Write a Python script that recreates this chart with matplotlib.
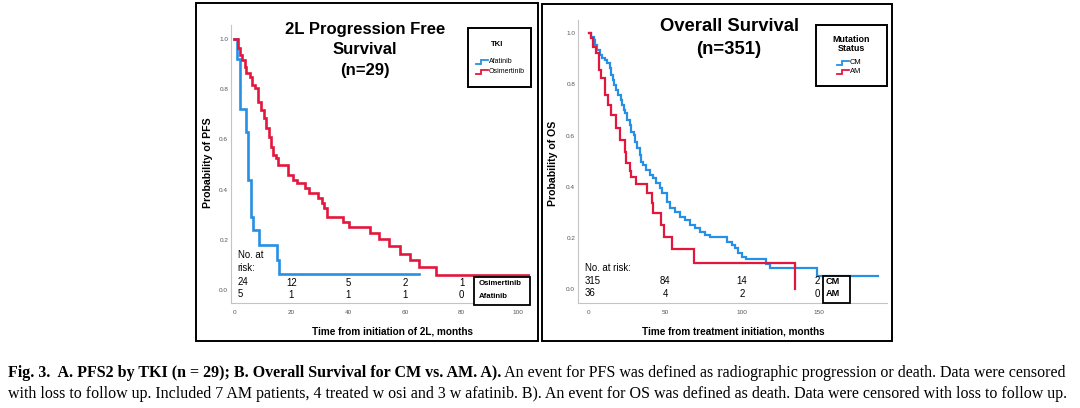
import matplotlib
matplotlib.use("Agg")
import matplotlib.pyplot as plt
from matplotlib.patches import Rectangle
from matplotlib.transforms import blended_transform_factory

# ---------------- data ----------------
# Panel A: 2L PFS by TKI (step times in months, survival after each step)
afa_t = [0, 0.8, 1.8, 4.0, 4.9, 5.9, 6.7, 8.8, 14.9, 15.8, 64.9]
afa_s = [1.0, 0.92, 0.72, 0.63, 0.44, 0.29, 0.24, 0.18, 0.12, 0.064, 0.064]
osi_t = [0, 1.3, 1.9, 2.7, 3.6, 4.2, 5.4, 6.2, 7.4, 8.3, 9.5, 10.5, 11.3, 12.1,
         12.8, 13.6, 14.8, 15.5, 18.9, 20.7, 22.0, 24.9, 26.1, 29.6, 30.8, 31.6,
         32.5, 38.2, 40.2, 47.8, 51.0, 54.4, 58.2, 62.0, 64.9, 71.1, 104.0]
osi_s = [1.0, 0.963, 0.936, 0.917, 0.89, 0.863, 0.85, 0.817, 0.803, 0.75, 0.717,
         0.684, 0.644, 0.61, 0.57, 0.538, 0.524, 0.5, 0.458, 0.438, 0.425, 0.405,
         0.385, 0.365, 0.345, 0.325, 0.292, 0.272, 0.252, 0.228, 0.205, 0.175,
         0.143, 0.12, 0.093, 0.06, 0.06]
a_xticks = [0, 20, 40, 60, 80, 100]
a_yticks = [0.0, 0.2, 0.4, 0.6, 0.8, 1.0]
a_risk_x = [20, 40, 60, 80]
a_risk_osi = ["12", "5", "2", "1"]
a_risk_afa = ["1", "1", "1", "0"]
a_risk_first = ["24", "5"]

# Panel B: OS by mutation status
cm_t = [0, 1.7, 3.5, 4.3, 5.6, 7.1, 8.7, 10.5, 12.2, 13.7, 14.4, 15.9, 16.6, 18.1,
        19.2, 20.9, 21.8, 23.1, 24.0, 25.3, 26.8, 27.9, 29.6, 30.5, 31.8, 33.3,
        34.4, 35.5, 37.7, 39.9, 42.0, 44.2, 46.4, 47.9, 50.8, 53.0, 56.2, 59.5,
        62.8, 66.1, 69.3, 72.6, 75.9, 79.1, 90.5, 93.3, 95.5, 97.6, 99.9, 102.7,
        115.8, 118.4, 149.3, 188.6]
cm_s = [1.0, 0.987, 0.974, 0.954, 0.935, 0.915, 0.902, 0.896, 0.883, 0.863, 0.837,
        0.818, 0.798, 0.779, 0.759, 0.74, 0.72, 0.70, 0.688, 0.661, 0.642, 0.616,
        0.603, 0.577, 0.551, 0.525, 0.498, 0.486, 0.466, 0.446, 0.434, 0.414,
        0.395, 0.375, 0.342, 0.316, 0.303, 0.284, 0.271, 0.251, 0.238, 0.225,
        0.212, 0.205, 0.186, 0.173, 0.16, 0.143, 0.127, 0.117, 0.10, 0.082,
        0.053, 0.053]
am_t = [0, 1.7, 2.8, 5.0, 6.8, 8.3, 10.5, 12.6, 14.8, 18.1, 20.3, 23.5, 24.6, 26.8,
        27.9, 31.0, 38.1, 41.0, 42.1, 47.5, 49.1, 54.1, 68.7, 134.7]
am_s = [1.0, 0.98, 0.948, 0.922, 0.857, 0.824, 0.759, 0.72, 0.681, 0.629, 0.583,
        0.538, 0.492, 0.46, 0.44, 0.41, 0.375, 0.336, 0.297, 0.251, 0.205, 0.156,
        0.104, 0.0]
b_xticks = [0, 50, 100, 150]
b_yticks = [0.0, 0.2, 0.4, 0.6, 0.8, 1.0]
b_risk_x = [50, 100, 149]
b_risk_cm = ["84", "14", "2"]
b_risk_am = ["4", "2", "0"]
b_risk_first = ["315", "36"]

BLUE = "#2690e4"
RED = "#e3173d"
SANS = "Liberation Sans"
SERIF = "Liberation Serif"

W, H = 1080, 408
fig = plt.figure(figsize=(W / 100, H / 100), dpi=100)
fig.patch.set_facecolor("white")


def px_axes(l, r, t, b):
    return fig.add_axes([l / W, 1 - b / H, (r - l) / W, (b - t) / H])


def style_axes(ax, xt, yt):
    for s in ["top", "right"]:
        ax.spines[s].set_visible(False)
    for s in ["left", "bottom"]:
        ax.spines[s].set_color("#c4c4c4")
        ax.spines[s].set_linewidth(0.8)
    ax.set_xticks(xt)
    ax.set_xticklabels([str(v) for v in xt])
    ax.set_yticks(yt)
    ax.set_yticklabels([f"{v:.1f}" for v in yt])
    ax.tick_params(length=0, labelsize=4.6, labelcolor="#555555")
    ax.tick_params(axis="x", pad=5)
    ax.tick_params(axis="y", pad=2)
    for lab in ax.get_xticklabels() + ax.get_yticklabels():
        lab.set_family(SANS)


# ---------- Panel A axes ----------
axA = px_axes(231, 530, 25, 303)
axA.set_xlim(-1.2, 104.1)
axA.set_ylim(-0.052, 1.056)
style_axes(axA, a_xticks, a_yticks)
axA.step(afa_t, afa_s, where="post", color=BLUE, lw=1.9, solid_joinstyle="miter")
axA.step(osi_t, osi_s, where="post", color=RED, lw=1.9, solid_joinstyle="miter")

# ---------- Panel B axes ----------
axB = px_axes(578, 887, 20, 303)
axB.set_xlim(-7, 194.7)
axB.set_ylim(-0.054, 1.052)
style_axes(axB, b_xticks, b_yticks)
axB.step(cm_t, cm_s, where="post", color=BLUE, lw=1.6, solid_joinstyle="miter")
axB.step(am_t, am_s, where="post", color=RED, lw=1.6, solid_joinstyle="miter")

# ---------- overlay in pixel coordinates ----------
ov = fig.add_axes([0, 0, 1, 1], zorder=10)
ov.set_xlim(0, W)
ov.set_ylim(H, 0)
ov.axis("off")

# panel frames
for (l, t, r, b) in [(196, 3, 538, 341), (542, 4, 892, 341)]:
    ov.add_patch(Rectangle((l, t), r - l, b - t, fill=False, ec="black", lw=1.4))

# titles
ov.text(365, 50, "2L Progression Free\nSurvival\n(n=29)", ha="center", va="center",
        fontsize=12, fontweight="bold", family=SANS, linespacing=1.43)
ov.text(729, 38, "Overall Survival\n(n=351)", ha="center", va="center",
        fontsize=13.3, fontweight="bold", family=SANS, linespacing=1.45)

# axis labels
ov.text(208, 163, "Probability of PFS", rotation=90, ha="center", va="center",
        fontsize=7.6, fontweight="bold", family=SANS)
ov.text(392, 331, "Time from initiation of 2L, months", ha="center", va="center",
        fontsize=7.2, fontweight="bold", family=SANS)
ov.text(553, 163, "Probability of OS", rotation=90, ha="center", va="center",
        fontsize=7.6, fontweight="bold", family=SANS)
ov.text(733, 331, "Time from treatment initiation, months", ha="center", va="center",
        fontsize=7.2, fontweight="bold", family=SANS)


def step_icon(x, y, color):
    ov.plot([x, x + 5, x + 5, x + 12], [y + 2, y + 2, y - 2, y - 2], color=color,
            lw=1.3, solid_joinstyle="miter")


# legends
ov.add_patch(Rectangle((468, 28), 63, 59, fc="white", ec="black", lw=1.4))
ov.text(497, 45, "TKI", ha="center", va="center", fontsize=5.6, fontweight="bold",
        family=SANS)
step_icon(476, 61.7, BLUE)
ov.text(488.5, 61.7, "Afatinib", ha="left", va="center", fontsize=5, family=SANS)
step_icon(476, 71.7, RED)
ov.text(488.5, 71.7, "Osimertinib", ha="left", va="center", fontsize=5, family=SANS)

ov.add_patch(Rectangle((816, 25), 71, 61, fc="white", ec="black", lw=1.4))
ov.text(851, 44, "Mutation\nStatus", ha="center", va="center", fontsize=6.4,
        fontweight="bold", family=SANS, linespacing=1.0)
step_icon(837, 62.5, BLUE)
ov.text(849.5, 62.5, "CM", ha="left", va="center", fontsize=5.4, family=SANS)
step_icon(837, 71.5, RED)
ov.text(849.5, 71.5, "AM", ha="left", va="center", fontsize=5.4, family=SANS)

# number at risk - panel A
trA = blended_transform_factory(axA.transData, ov.transData)
ov.text(237.5, 255, "No. at", ha="left", va="center", fontsize=6.9, family=SANS)
ov.text(237.5, 268, "risk:", ha="left", va="center", fontsize=6.9, family=SANS)
ov.text(237.5, 282, a_risk_first[0], ha="left", va="center", fontsize=6.9, family=SANS)
ov.text(237.5, 294, a_risk_first[1], ha="left", va="center", fontsize=6.9, family=SANS)
for x, a, b in zip(a_risk_x, a_risk_osi, a_risk_afa):
    ov.text(x, 282.5, a, transform=trA, ha="center", va="center", fontsize=6.9,
            family=SANS)
    ov.text(x, 294.5, b, transform=trA, ha="center", va="center", fontsize=6.9,
            family=SANS)
ov.add_patch(Rectangle((474, 276.5), 56, 28, fc="white", ec="black", lw=1.3))
ov.text(478.5, 283.5, "Osimertinib", ha="left", va="center", fontsize=5.6,
        fontweight="bold", family=SANS)
ov.text(478.5, 296, "Afatinib", ha="left", va="center", fontsize=5.6,
        fontweight="bold", family=SANS)

# number at risk - panel B
trB = blended_transform_factory(axB.transData, ov.transData)
ov.text(585, 268.3, "No. at risk:", ha="left", va="center", fontsize=6.9, family=SANS)
ov.text(585, 280.5, b_risk_first[0], ha="left", va="center", fontsize=6.9, family=SANS)
ov.text(585, 292.5, b_risk_first[1], ha="left", va="center", fontsize=6.9, family=SANS)
for x, a, b in zip(b_risk_x, b_risk_cm, b_risk_am):
    ov.text(x, 281.5, a, transform=trB, ha="center", va="center", fontsize=6.9,
            family=SANS)
    ov.text(x, 294, b, transform=trB, ha="center", va="center", fontsize=6.9,
            family=SANS)
ov.add_patch(Rectangle((822.5, 275.5), 27.5, 27, fc="white", ec="black", lw=1.3))
ov.text(826, 282, "CM", ha="left", va="center", fontsize=6.6, fontweight="bold",
        family=SANS)
ov.text(826, 293.5, "AM", ha="left", va="center", fontsize=6.6, fontweight="bold",
        family=SANS)

# caption, fitted to the full width
caption1 = [("Fig. 3.  A. PFS2 by TKI (n = 29); B. Overall Survival for CM vs. AM. A).", "bold"),
            (" An event for PFS was defined as radiographic progression or death. Data were censored", "normal")]
caption2 = [("with loss to follow up. Included 7 AM patients, 4 treated w osi and 3 w afatinib. "
             "B). An event for OS was defined as death. Data were censored with loss to follow up.",
             "normal")]

renderer = fig.canvas.get_renderer()


def fit_line(parts, x0, x1, y, base):
    texts = [ov.text(x0, y, s, fontweight=w, fontsize=base, family=SERIF,
                     ha="left", va="baseline") for s, w in parts]
    widths = [t.get_window_extent(renderer).width for t in texts]
    scale = (x1 - x0) / sum(widths)
    for t in texts:
        t.set_fontsize(base * scale)
    widths = [t.get_window_extent(renderer).width for t in texts]
    x = x0
    for t, w in zip(texts, widths):
        t.set_x(x)
        x += w


fit_line(caption1, 8, 1072, 377, 10.5)
fit_line(caption2, 8, 1072, 398.5, 10.5)

fig.savefig("out.png", dpi=100, facecolor="white")
